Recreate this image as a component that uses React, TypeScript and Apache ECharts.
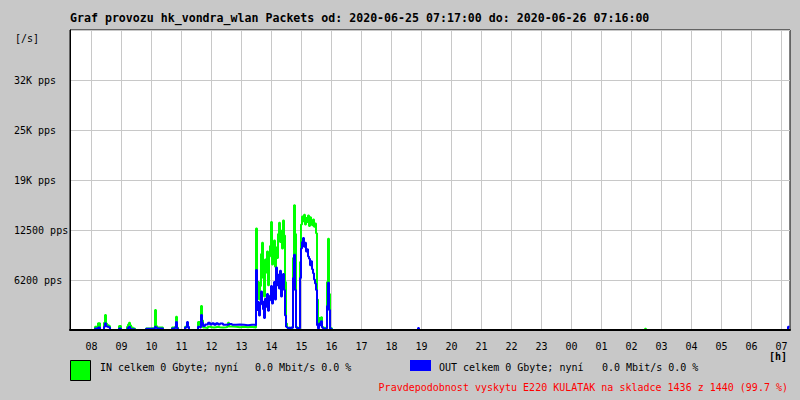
import React, { useEffect, useRef } from 'react';
import * as echarts from 'echarts';

const TITLE = 'Graf provozu hk_vondra_wlan Packets od: 2020-06-25 07:17:00 do: 2020-06-26 07:16:00';
const START = '07:17';
const END = '07:17';
const hourTicks = ['08', '09', '10', '11', '12', '13', '14', '15', '16', '17', '18', '19', '20', '21', '22', '23', '00', '01', '02', '03', '04', '05', '06', '07'];
const yTickLabels = ['', '6200 pps', '12500 pps', '19K pps', '25K pps', '32K pps', ''];
const Y_MAX = 37500;
const Y_STEP = 6250;
const Y_UNIT = '[/s]';
const X_UNIT = '[h]';

// quiet morning samples
const quietTimes = ['07:17', '08:05', '08:07', '08:11', '08:13', '08:17', '08:25', '08:27', '08:29', '08:31', '08:35', '08:37', '08:55', '08:59',
  '09:11', '09:13', '09:15', '09:17', '09:19', '09:23', '09:27', '09:49', '09:57', '10:07', '10:09', '10:11', '10:23', '10:41', '10:47', '10:49', '10:51', '10:53',
  '11:07', '11:11', '11:13', '11:15', '11:33', '11:37', '11:39', '11:41', '11:43', '11:47', '11:53', '11:57', '12:01', '12:05', '12:09', '12:13', '12:17', '12:23',
  '12:29', '12:33', '12:35', '12:41', '12:49', '12:57', '13:05', '13:13', '13:21'];
const quietIn = [0, 0, 400, 300, 850, 0, 900, 1875, 800, 600, 500, 0, 500, 0,
  400, 700, 900, 600, 300, 200, 0, 200, 250, 2500, 500, 300, 0, 300, 400, 1650, 300, 0,
  400, 600, 300, 0, 1000, 600, 3000, 1200, 300, 250, 400, 350, 300, 350, 400, 350, 300, 350,
  400, 900, 450, 400, 350, 400, 350, 400, 350];
const quietOut = [0, 0, 200, 100, 300, 0, 400, 850, 500, 400, 300, 0, 200, 0,
  100, 300, 400, 200, 100, 100, 0, 150, 200, 400, 300, 200, 0, 200, 300, 1000, 200, 0,
  300, 1000, 400, 0, 400, 300, 1875, 900, 500, 700, 900, 700, 850, 650, 850, 700, 800, 650,
  700, 650, 750, 650, 700, 650, 600, 650, 650];

// busy afternoon, one sample every 2 minutes from 13:25
const activeStart = '13:25';
const activeStepMin = 2;
const activeIn = [400, 300, 12700, 4500, 6000, 3800, 5500, 9500, 10900, 6500,
  4200, 8800, 7200, 9800, 5600, 9200, 10500, 13500, 8200, 9600,
  11200, 7900, 10300, 9000, 12000, 13400, 11000, 12400, 10200, 13700,
  11800, 6000, 800, 300, 200, 300, 250, 200, 300, 9000,
  15600, 12000, 400, 250, 300, 200, 8500, 13200, 14200, 13600,
  14400, 13200, 14000, 13500, 14300, 13000, 14100, 13600, 13100, 13800,
  12900, 13300, 12100, 3800, 300, 1500, 900, 1600, 400, 300,
  250, 200, 300, 6000, 11400, 4500, 250, 200, 0];
const activeOut = [650, 600, 7500, 2500, 3500, 1800, 3200, 4800, 3600, 2600,
  1500, 3900, 2900, 4500, 2400, 3700, 4300, 5500, 3300, 4700,
  6000, 3800, 7800, 5600, 6900, 5200, 7400, 4200, 6100, 7000,
  5000, 1800, 400, 300, 200, 250, 200, 300, 250, 6500,
  9400, 5000, 300, 200, 250, 200, 6500, 10200, 11000, 11500,
  10400, 10900, 9800, 10100, 9200, 8900, 8100, 8600, 7600, 7100,
  6300, 5800, 5000, 600, 200, 800, 600, 1100, 300, 200,
  150, 150, 200, 3000, 5900, 2500, 150, 100, 0];

// evening and night
const lateTimes = ['16:03', '18:51', '18:53', '18:55', '02:25', '02:27', '02:29', '07:11', '07:13', '07:16'];
const lateIn = [0, 0, 0, 0, 0, 150, 0, 0, 0, 0];
const lateOut = [0, 0, 250, 0, 0, 0, 0, 0, 400, 400];

const legendIn = ['IN celkem 0 Gbyte; nyní', '0.0 Mbit/s 0.0 %'];
const legendOut = ['OUT celkem 0 Gbyte; nyní', '0.0 Mbit/s 0.0 %'];
const FOOTER = 'Pravdepodobnost vyskytu E220 KULATAK na skladce 1436 z 1440 (99.7 %)';

const FONT = '"DejaVu Sans Mono", "Liberation Mono", monospace';
const startMin = (() => { const [h, m] = START.split(':').map(Number); return h * 60 + m; })();

function toMin(hhmm: string): number {
  const [h, m] = hhmm.split(':').map(Number);
  let v = h * 60 + m;
  if (v < startMin) v += 1440;
  return v;
}

export default function App() {
  const ref = useRef<HTMLDivElement>(null);
  useEffect(() => {
    document.body.style.margin = '0';
    if (!ref.current) return;
    const chart = echarts.init(ref.current, null, { renderer: 'svg' });

    const inData: number[][] = [];
    const outData: number[][] = [];
    quietTimes.forEach((t, i) => { inData.push([toMin(t), quietIn[i]]); outData.push([toMin(t), quietOut[i]]); });
    const a0 = toMin(activeStart);
    activeIn.forEach((v, i) => { inData.push([a0 + i * activeStepMin, v]); outData.push([a0 + i * activeStepMin, activeOut[i]]); });
    lateTimes.forEach((t, i) => { inData.push([toMin(t), lateIn[i]]); outData.push([toMin(t), lateOut[i]]); });

    const xMin = startMin;
    const xMax = toMin(END) <= startMin ? startMin + 1440 : toMin(END);
    const hourValues = hourTicks.map((h) => toMin(h + ':00'));

    const option: any = {
      animation: false,
      backgroundColor: '#c8c8c8',
      textStyle: { fontFamily: FONT },
      title: {
        text: TITLE,
        left: 70,
        top: 12,
        padding: 0,
        textStyle: { fontFamily: FONT, fontSize: 11.6, fontWeight: 'bold', color: '#000' },
      },
      grid: {
        left: 70, top: 30, width: 720, height: 300,
        show: true, backgroundColor: '#ffffff', borderColor: '#000', borderWidth: 1,
      },
      xAxis: [
        {
          type: 'value', min: xMin, max: xMax, position: 'bottom',
          axisLine: { show: false },
          axisTick: { show: false, customValues: hourValues },
          axisLabel: {
            customValues: hourValues, margin: 11, fontSize: 10, color: '#000', fontFamily: FONT,
            formatter: (v: number) => String(Math.floor(v / 60) % 24).padStart(2, '0'),
          },
          splitLine: { show: true, lineStyle: { color: '#c8c8c8', width: 1 } },
        },
        {
          type: 'value', min: xMin, max: xMax, position: 'bottom', offset: 0, z: 5,
          axisLine: { show: true, onZero: false, lineStyle: { color: '#000', width: 2 } },
          axisTick: { show: false }, axisLabel: { show: false }, splitLine: { show: false },
        },
      ],
      yAxis: {
        type: 'value', min: 0, max: Y_MAX, interval: Y_STEP,
        axisLine: { show: true, lineStyle: { color: '#000', width: 1 } },
        axisTick: { show: false },
        axisLabel: {
          align: 'left', margin: 56, fontSize: 10, color: '#000', fontFamily: FONT, padding: [3, 0, 0, 0],
          formatter: (v: number) => yTickLabels[Math.round(v / Y_STEP)] || '',
        },
        splitLine: { show: true, lineStyle: { color: '#c8c8c8', width: 1 } },
      },
      series: [
        {
          name: 'IN', type: 'line', step: 'end', showSymbol: false, data: inData,
          lineStyle: { color: '#00ff00', width: 2 }, itemStyle: { color: '#00ff00' }, z: 2,
        },
        {
          name: 'OUT', type: 'line', step: 'end', showSymbol: false, data: outData,
          lineStyle: { color: '#0000ff', width: 2 }, itemStyle: { color: '#0000ff' }, z: 3,
        },
      ],
      graphic: [
        { type: 'text', left: 15, top: 33, style: { text: Y_UNIT, fill: '#000', fontSize: 10, fontFamily: FONT } },
        { type: 'text', right: 13, top: 351, style: { text: X_UNIT, fill: '#000', fontSize: 10, fontWeight: 'bold', fontFamily: FONT } },
        { type: 'rect', shape: { x: 70.5, y: 360.5, width: 20, height: 20 }, style: { fill: '#00ff00', stroke: '#000', lineWidth: 1 } },
        { type: 'text', x: 100, y: 367, style: { text: legendIn[0], fill: '#000', fontSize: 10, fontFamily: FONT, verticalAlign: 'middle' } },
        { type: 'text', x: 255, y: 367, style: { text: legendIn[1], fill: '#000', fontSize: 10, fontFamily: FONT, verticalAlign: 'middle' } },
        { type: 'rect', shape: { x: 410, y: 360, width: 21, height: 11 }, style: { fill: '#0000ff' } },
        { type: 'text', x: 439, y: 367, style: { text: legendOut[0], fill: '#000', fontSize: 10, fontFamily: FONT, verticalAlign: 'middle' } },
        { type: 'text', x: 602, y: 367, style: { text: legendOut[1], fill: '#000', fontSize: 10, fontFamily: FONT, verticalAlign: 'middle' } },
        { type: 'text', x: 788, y: 387, style: { text: FOOTER, fill: '#ff0000', fontSize: 10, fontFamily: FONT, align: 'right', verticalAlign: 'middle' } },
      ],
    };
    chart.setOption(option);
    return () => chart.dispose();
  }, []);
  return <div ref={ref} style={{ width: 800, height: 400 }} />;
}
